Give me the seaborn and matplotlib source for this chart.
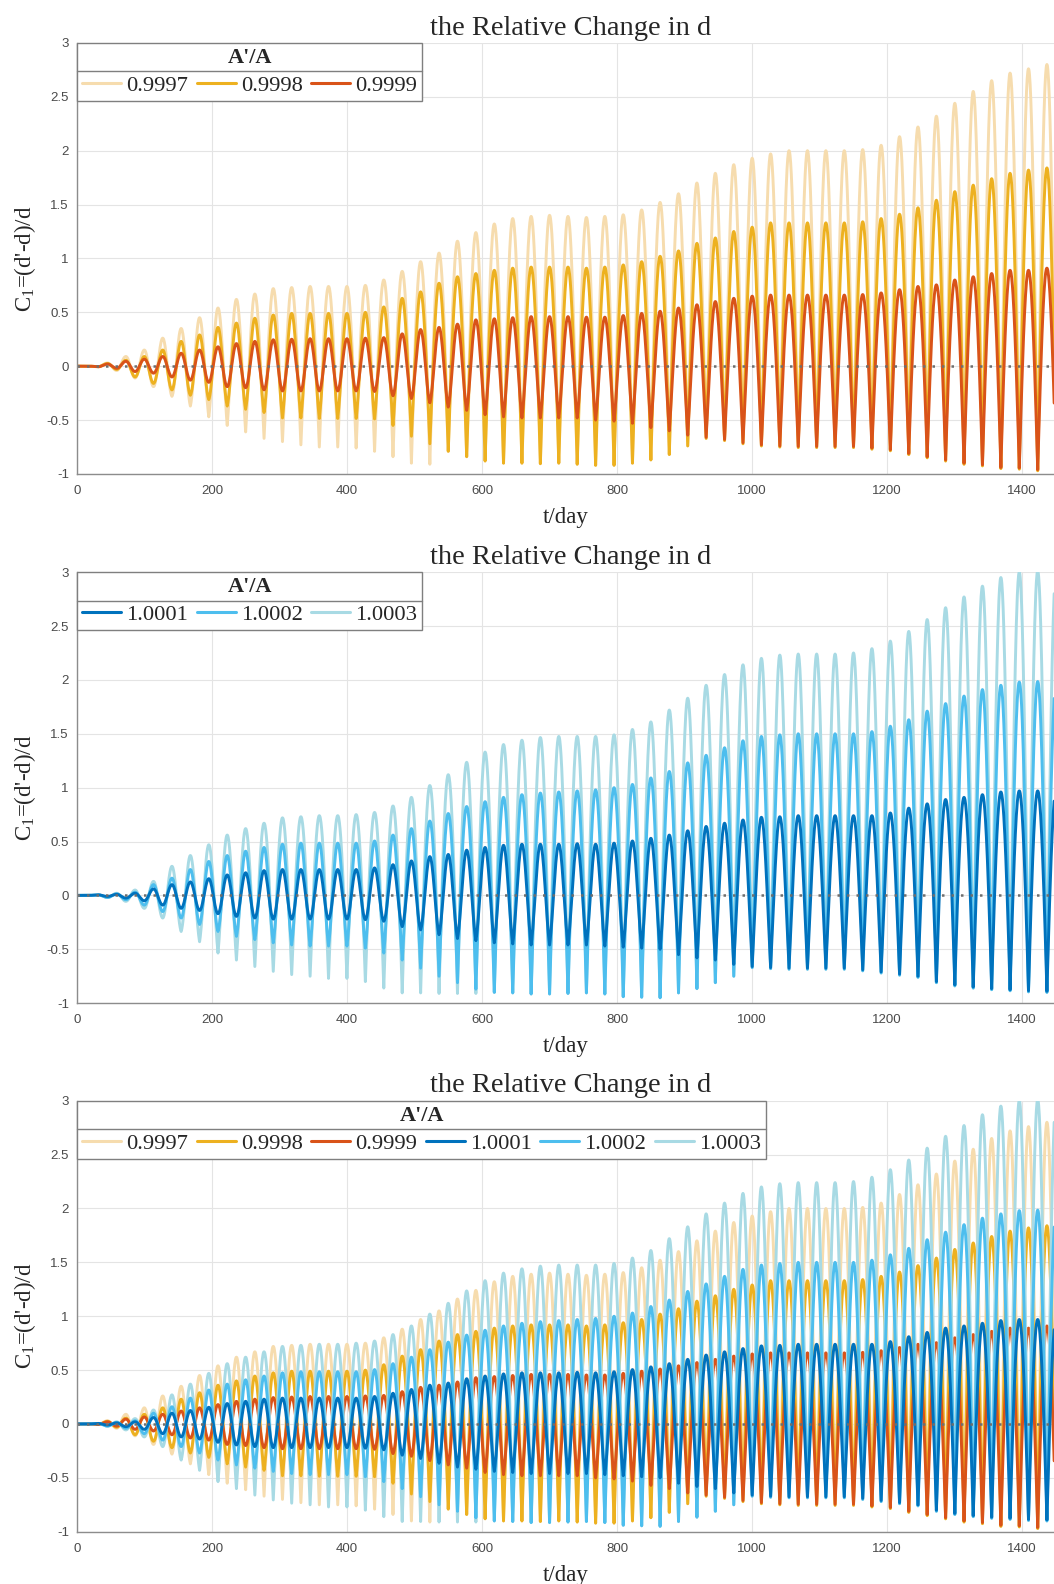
import numpy as np
import pandas as pd
import matplotlib
matplotlib.use("Agg")
import matplotlib.pyplot as plt
from matplotlib.lines import Line2D
from matplotlib.ticker import FuncFormatter, MultipleLocator
import seaborn as sns

# timing of the oscillation (days)
FIRST_EXTREMUM = 17.5
PERIOD = 27.3

# per-cycle extremes, A'/A < 1 (peak first, trough half a period later)
peach_hi = [0.0, 0.03, 0.09, 0.15, 0.26, 0.35, 0.45, 0.54, 0.62, 0.67,
            0.72, 0.73, 0.74, 0.74, 0.74, 0.75, 0.80, 0.88, 0.97, 1.05,
            1.16, 1.24, 1.32, 1.37, 1.39, 1.40, 1.39, 1.38, 1.39, 1.405,
            1.45, 1.52, 1.60, 1.70, 1.79, 1.87, 1.93, 1.97, 2.00, 2.00,
            2.00, 2.00, 2.01, 2.05, 2.13, 2.22, 2.32, 2.44, 2.55, 2.65,
            2.72, 2.76, 2.80]
peach_lo = [-0.005, -0.04, -0.11, -0.19, -0.28, -0.37, -0.47, -0.55, -0.61, -0.67,
            -0.70, -0.73, -0.75, -0.75, -0.76, -0.79, -0.84, -0.90, -0.91, -0.79,
            -0.84, -0.88, -0.90, -0.90, -0.905, -0.90, -0.91, -0.92, -0.92, -0.90,
            -0.87, -0.82, -0.74, -0.67, -0.69, -0.72, -0.74, -0.75, -0.755, -0.755,
            -0.755, -0.755, -0.77, -0.785, -0.82, -0.85, -0.88, -0.91, -0.925, -0.95,
            -0.955, -0.97, -0.97]
yel_hi = [0.0, 0.025, 0.055, 0.09, 0.15, 0.23, 0.29, 0.36, 0.40, 0.445,
          0.475, 0.49, 0.49, 0.49, 0.49, 0.50, 0.55, 0.63, 0.69, 0.77,
          0.83, 0.86, 0.89, 0.91, 0.92, 0.92, 0.92, 0.91, 0.92, 0.94,
          0.97, 1.02, 1.07, 1.14, 1.19, 1.25, 1.29, 1.33, 1.33, 1.33,
          1.33, 1.33, 1.34, 1.37, 1.41, 1.47, 1.54, 1.62, 1.68, 1.74,
          1.79, 1.82, 1.84]
yel_lo = [-0.005, -0.03, -0.10, -0.16, -0.22, -0.27, -0.31, -0.37, -0.40, -0.43,
          -0.48, -0.48, -0.485, -0.485, -0.485, -0.49, -0.55, -0.65, -0.72, -0.79,
          -0.84, -0.88, -0.90, -0.90, -0.905, -0.90, -0.91, -0.92, -0.92, -0.90,
          -0.87, -0.82, -0.74, -0.67, -0.69, -0.72, -0.74, -0.75, -0.755, -0.755,
          -0.755, -0.755, -0.77, -0.785, -0.82, -0.85, -0.88, -0.91, -0.925, -0.95,
          -0.955, -0.97, -0.97]
red_hi = [0.0, 0.02, 0.045, 0.065, 0.09, 0.12, 0.15, 0.18, 0.21, 0.23,
          0.245, 0.25, 0.255, 0.255, 0.255, 0.26, 0.265, 0.30, 0.34, 0.36,
          0.39, 0.43, 0.44, 0.45, 0.46, 0.46, 0.46, 0.455, 0.455, 0.47,
          0.49, 0.51, 0.54, 0.57, 0.60, 0.63, 0.65, 0.66, 0.66, 0.66,
          0.66, 0.66, 0.665, 0.68, 0.71, 0.74, 0.755, 0.80, 0.83, 0.86,
          0.89, 0.89, 0.91]
red_lo = [-0.005, -0.02, -0.05, -0.065, -0.10, -0.13, -0.15, -0.19, -0.20, -0.22,
          -0.23, -0.23, -0.23, -0.23, -0.23, -0.235, -0.275, -0.30, -0.34, -0.38,
          -0.41, -0.45, -0.47, -0.48, -0.48, -0.48, -0.48, -0.50, -0.51, -0.53,
          -0.57, -0.60, -0.64, -0.66, -0.68, -0.71, -0.73, -0.74, -0.745, -0.745,
          -0.745, -0.745, -0.76, -0.775, -0.81, -0.84, -0.87, -0.90, -0.915, -0.94,
          -0.945, -0.96, -0.96]

# A'/A > 1 runs in antiphase (trough first, peak half a period later)
dblue_lo = [0.0, -0.01, -0.025, -0.05, -0.09, -0.12, -0.14, -0.17, -0.195, -0.21,
            -0.22, -0.22, -0.22, -0.22, -0.22, -0.225, -0.24, -0.29, -0.32, -0.365,
            -0.40, -0.42, -0.44, -0.45, -0.46, -0.46, -0.46, -0.46, -0.47, -0.48,
            -0.49, -0.50, -0.55, -0.58, -0.60, -0.64, -0.66, -0.67, -0.675, -0.675,
            -0.675, -0.675, -0.69, -0.71, -0.73, -0.75, -0.80, -0.83, -0.85, -0.865,
            -0.875, -0.885, -0.89]
dblue_hi = [0.005, 0.01, 0.02, 0.06, 0.10, 0.125, 0.155, 0.19, 0.21, 0.23,
            0.24, 0.24, 0.24, 0.24, 0.24, 0.255, 0.285, 0.32, 0.36, 0.38,
            0.42, 0.445, 0.465, 0.475, 0.475, 0.475, 0.48, 0.475, 0.485, 0.505,
            0.53, 0.56, 0.60, 0.64, 0.67, 0.70, 0.725, 0.73, 0.74, 0.74,
            0.74, 0.74, 0.74, 0.765, 0.81, 0.85, 0.89, 0.91, 0.935, 0.96,
            0.97, 0.97, 0.98]
lblue_lo = [0.0, -0.02, -0.04, -0.09, -0.15, -0.21, -0.27, -0.335, -0.38, -0.41,
            -0.44, -0.46, -0.47, -0.47, -0.47, -0.49, -0.535, -0.60, -0.675, -0.75,
            -0.81, -0.87, -0.90, -0.905, -0.915, -0.915, -0.91, -0.905, -0.915, -0.94,
            -0.945, -0.95, -0.905, -0.865, -0.81, -0.75, -0.67, -0.68, -0.685, -0.685,
            -0.685, -0.685, -0.70, -0.72, -0.74, -0.76, -0.81, -0.84, -0.86, -0.875,
            -0.885, -0.895, -0.90]
lblue_hi = [0.005, 0.015, 0.03, 0.10, 0.16, 0.24, 0.315, 0.37, 0.41, 0.445,
            0.475, 0.485, 0.485, 0.485, 0.485, 0.505, 0.56, 0.62, 0.69, 0.76,
            0.825, 0.87, 0.91, 0.935, 0.95, 0.96, 0.97, 0.98, 1.00, 1.03,
            1.09, 1.15, 1.23, 1.30, 1.37, 1.435, 1.475, 1.49, 1.50, 1.50,
            1.50, 1.50, 1.52, 1.57, 1.63, 1.71, 1.78, 1.85, 1.91, 1.95,
            1.98, 1.985, 1.99]
vblue_lo = [0.0, -0.02, -0.055, -0.12, -0.21, -0.335, -0.43, -0.535, -0.60, -0.66,
            -0.705, -0.735, -0.75, -0.77, -0.77, -0.80, -0.86, -0.905, -0.905, -0.91,
            -0.91, -0.91, -0.90, -0.905, -0.915, -0.915, -0.91, -0.905, -0.915, -0.94,
            -0.945, -0.95, -0.905, -0.865, -0.81, -0.75, -0.67, -0.68, -0.685, -0.685,
            -0.685, -0.685, -0.70, -0.72, -0.74, -0.76, -0.81, -0.84, -0.86, -0.875,
            -0.885, -0.895, -0.90]
vblue_hi = [0.005, 0.02, 0.05, 0.13, 0.27, 0.37, 0.47, 0.56, 0.62, 0.67,
            0.72, 0.73, 0.74, 0.74, 0.75, 0.77, 0.83, 0.91, 1.02, 1.12,
            1.235, 1.33, 1.40, 1.44, 1.465, 1.475, 1.475, 1.475, 1.49, 1.54,
            1.61, 1.72, 1.83, 1.95, 2.05, 2.14, 2.20, 2.23, 2.24, 2.24,
            2.24, 2.25, 2.29, 2.36, 2.45, 2.56, 2.67, 2.77, 2.87, 2.95,
            3.00, 3.01, 3.02]

labels_low = ["0.9997", "0.9998", "0.9999"]
labels_high = ["1.0001", "1.0002", "1.0003"]
colors = {"0.9997": "#F6DCAE", "0.9998": "#EDB120", "0.9999": "#D95319",
          "1.0001": "#0072BD", "1.0002": "#4DBEEE", "1.0003": "#A8DAE4"}

# (first extremum list, second extremum list) for each series
extremes = {"0.9997": (peach_hi, peach_lo), "0.9998": (yel_hi, yel_lo),
            "0.9999": (red_hi, red_lo), "1.0001": (dblue_lo, dblue_hi),
            "1.0002": (lblue_lo, lblue_hi), "1.0003": (vblue_lo, vblue_hi)}


def trace(first, second, n=28):
    # join the read extremes: rounded crests, cusp-like troughs when they get deep
    t_ev, y_ev = [0.0], [0.0]
    for k in range(len(first)):
        t_ev += [FIRST_EXTREMUM + PERIOD * k, FIRST_EXTREMUM + PERIOD * (k + 0.5)]
        y_ev += [first[k], second[k]]
    ts, ys = [], []
    u = np.linspace(0, 1, n, endpoint=False)
    for i in range(len(t_ev) - 1):
        ta, tb, ya, yb = t_ev[i], t_ev[i + 1], y_ev[i], y_ev[i + 1]
        lo, hi = min(ya, yb), max(ya, yb)
        v = u if ya <= yb else 1 - u
        w = np.clip((-lo - 0.2) / 0.6, 0, 1)
        s = (1 - w) * (1 - np.cos(np.pi * v)) / 2 + w * np.sin(np.pi * v / 2)
        ts.append(ta + (tb - ta) * u)
        ys.append(lo + (hi - lo) * s)
    return np.concatenate(ts), np.concatenate(ys)


frames = []
for name, (a, b) in extremes.items():
    t, c = trace(a, b)
    frames.append(pd.DataFrame({"t": t, "C": c, "series": name}))
df = pd.concat(frames, ignore_index=True)

sns.set_style("white")
plt.rcParams["font.family"] = ["Liberation Sans", "DejaVu Sans"]
plt.rcParams["axes.unicode_minus"] = False
plt.rcParams["mathtext.fontset"] = "custom"
plt.rcParams["mathtext.rm"] = "Liberation Serif"
plt.rcParams["mathtext.it"] = "Liberation Serif:italic"

SERIF = "Liberation Serif"
LEG_SIZE = 16.2
LEG_SEP = 0.32
fig = plt.figure(figsize=(10.54, 15.84), dpi=100)
left, width, height = 0.0733, 0.9267, 0.2721
axes = [fig.add_axes([left, 0.7008, width, height]),
        fig.add_axes([left, 0.3667, width, height]),
        fig.add_axes([left, 0.0330, width, height])]

panels = [
    (labels_low, ["0.9997", "0.9998", "0.9999"]),
    (labels_high, ["1.0003", "1.0002", "1.0001"]),
    (labels_low + labels_high, ["0.9997", "0.9998", "0.9999", "1.0003", "1.0002", "1.0001"]),
]

legends = []
for ax, (leg_labels, draw_order) in zip(axes, panels):
    sub = df[df["series"].isin(draw_order)]
    sns.lineplot(data=sub, x="t", y="C", hue="series", hue_order=draw_order,
                 palette=colors, estimator=None, sort=False, lw=2.1,
                 legend=False, ax=ax)
    ax.axhline(0, color="#6e6e6e", lw=1.8, ls=(0, (1, 2.8)))

    ax.set_xlim(0, 1447.6)
    ax.set_ylim(-1, 3)
    ax.xaxis.set_major_locator(MultipleLocator(200))
    ax.yaxis.set_major_locator(MultipleLocator(0.5))
    ax.yaxis.set_major_formatter(FuncFormatter(lambda v, p: f"{v:g}"))
    ax.grid(True, color="#e4e4e4", lw=0.8)
    ax.set_axisbelow(True)
    for s in ("top", "right"):
        ax.spines[s].set_visible(False)
    for s in ("left", "bottom"):
        ax.spines[s].set_color("#8c8c8c")
        ax.spines[s].set_linewidth(1.0)
    ax.tick_params(direction="in", length=7, width=0.8, color="#8c8c8c",
                   labelcolor="#4a4a4a", labelsize=9.5)
    ax.tick_params(axis="x", pad=8)
    ax.tick_params(axis="y", pad=6)

    ax.set_title("the Relative Change in d", family=SERIF, fontsize=20.5, pad=6)
    ax.title.set_x(0.5055)
    ax.set_xlabel("t/day", family=SERIF, fontsize=16.5, labelpad=7)
    ax.set_ylabel(r"C$_{\mathrm{1}}$=(d'-d)/d", family=SERIF, fontsize=16.5)
    ax.yaxis.set_label_coords(-0.040, 0.5)

    handles = [Line2D([], [], color=colors[l], lw=2.2) for l in leg_labels]
    leg = ax.legend(handles, leg_labels, title="A'/A", ncol=len(leg_labels),
                    loc="upper left", bbox_to_anchor=(0, 1), borderaxespad=0,
                    frameon=True, fancybox=False, edgecolor="#7f7f7f", framealpha=1,
                    prop={"family": SERIF, "size": LEG_SIZE},
                    title_fontproperties={"family": SERIF, "weight": "bold", "size": 16},
                    handlelength=1.74, handletextpad=0.22, columnspacing=0.38,
                    borderpad=0.22, labelspacing=LEG_SEP)
    leg.get_frame().set_linewidth(1.0)
    legends.append(leg)

# MATLAB-style rule between the legend title and its entries
fig.canvas.draw()
inv = fig.transFigure.inverted()
sep_px = LEG_SEP * LEG_SIZE * fig.dpi / 72
for leg in legends:
    fb = leg.get_frame().get_window_extent()
    tb = leg.get_title().get_window_extent()
    y = tb.y0 - sep_px / 2
    (x0, yf), (x1, _) = inv.transform([(fb.x0, y), (fb.x1, y)])
    fig.add_artist(Line2D([x0, x1], [yf, yf], transform=fig.transFigure,
                          color="#7f7f7f", lw=1.0, zorder=10))

fig.savefig("out.png", dpi=100)
